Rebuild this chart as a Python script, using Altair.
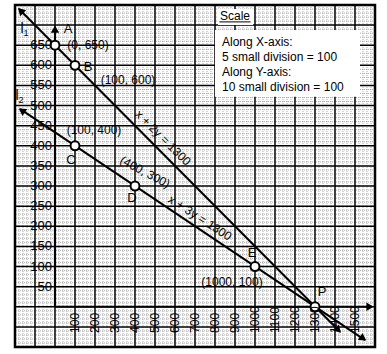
import altair as alt
import pandas as pd

# ---- data ----
pt_names = ["A", "B", "C", "D", "E", "P"]
pt_x = [0, 100, 100, 400, 1000, 1300]
pt_y = [650, 600, 400, 300, 100, 0]

# letter label positions
let_x = [65, 165, 80, 385, 985, 1335]
let_y = [690, 596, 365, 270, 133, 37]

# coordinate labels
coord_text = ["(0, 650)", "(100, 600)", "(100, 400)", "(1000, 100)"]
coord_x = [165, 365, 195, 885]
coord_y = [650, 564, 439, 61]

# lines (end points of the drawn arrows)
l1_x = [-180, 1425]
l1_y = [740, -62]
l2_x = [-175, 1550]
l2_y = [492, -83]

y_ticks = [50, 100, 150, 200, 250, 300, 350, 400, 450, 500, 550, 600, 650]
x_ticks = [100, 200, 300, 400, 500, 600, 700, 800, 900, 1000, 1100, 1200, 1300, 1400, 1500]

scale_lines = ["Along X-axis:", "5 small division = 100", "Along  Y-axis:", "10 small division = 100"]
scale_line_y = [658, 620, 583, 546]

XD = [-200, 1600]
YD = [-100, 750]
major_x = list(range(-200, 1601, 100))
major_y = list(range(-100, 751, 50))
minor_x = [v for v in range(-200, 1601, 20) if v % 100]
minor_y = [v for v in range(-100, 751, 10) if v % 50]

FONT = "Liberation Sans"
xs = alt.Scale(domain=XD, nice=False, zero=False)
ys = alt.Scale(domain=YD, nice=False, zero=False)

def X(f="x"):
    return alt.X(f"{f}:Q", scale=xs, axis=None)

def Y(f="y"):
    return alt.Y(f"{f}:Q", scale=ys, axis=None)

# grid
minor_v = alt.Chart(pd.DataFrame({"x": minor_x})).mark_rule(
    color="#8a8a8a", strokeWidth=0.7, strokeDash=[1, 1]).encode(x=X())
minor_h = alt.Chart(pd.DataFrame({"y": minor_y})).mark_rule(
    color="#8a8a8a", strokeWidth=0.7, strokeDash=[1, 1]).encode(y=Y())
major_v = alt.Chart(pd.DataFrame({"x": major_x})).mark_rule(
    color="black", strokeWidth=1.5).encode(x=X())
major_h = alt.Chart(pd.DataFrame({"y": major_y})).mark_rule(
    color="black", strokeWidth=1.5).encode(y=Y())

# axes (thicker)
axis_x = alt.Chart(pd.DataFrame({"x": [0], "x2": [1575], "y": [0]})).mark_rule(
    color="black", strokeWidth=2.2).encode(x=X(), x2="x2:Q", y=Y())
axis_y = alt.Chart(pd.DataFrame({"x": [0], "y": [0], "y2": [685]})).mark_rule(
    color="black", strokeWidth=2.2).encode(x=X(), y=Y(), y2="y2:Q")

# scale box
box_df = pd.DataFrame({"x": [800], "x2": [1525], "y": [688], "y2": [522]})
box = alt.Chart(box_df).mark_rect(color="white").encode(
    x=X(), x2="x2:Q", y=Y(), y2="y2:Q")
sbox = alt.Chart(pd.DataFrame({"x": [815], "x2": [990], "y": [740], "y2": [700]})).mark_rect(
    color="white").encode(x=X(), x2="x2:Q", y=Y(), y2="y2:Q")
stitle = alt.Chart(pd.DataFrame({"x": [900], "y": [722], "t": ["Scale"]})).mark_text(
    font=FONT, fontSize=12, color="black").encode(x=X(), y=Y(), text="t:N")
sunder = alt.Chart(pd.DataFrame({"x": [822], "x2": [978], "y": [708]})).mark_rule(
    color="black", strokeWidth=1).encode(x=X(), x2="x2:Q", y=Y())
stext = alt.Chart(pd.DataFrame({"x": [835] * 4, "y": scale_line_y, "t": scale_lines})).mark_text(
    font=FONT, fontSize=12, align="left", baseline="middle", color="black").encode(
    x=X(), y=Y(), text="t:N")

# lines
ldf = pd.DataFrame({"x": l1_x + l2_x, "y": l1_y + l2_y, "g": ["l1", "l1", "l2", "l2"]})
lines = alt.Chart(ldf).mark_line(color="black", strokeWidth=2).encode(
    x=X(), y=Y(), detail="g:N")

arr_df = pd.DataFrame({
    "x": [-172, 1417, -166, 1541, 0, 1575],
    "y": [736, -58, 488, -79, 690, 0],
    "a": [315, 135, 304, 124, 0, 90],
})
arrows = alt.Chart(arr_df).mark_point(shape="triangle-up", filled=True, color="black",
                                      size=70, opacity=1).encode(
    x=X(), y=Y(), angle=alt.Angle("a:Q", scale=None))

pts = alt.Chart(pd.DataFrame({"x": pt_x, "y": pt_y})).mark_point(
    shape="circle", filled=True, fill="white", stroke="black", strokeWidth=2,
    size=80, opacity=1).encode(x=X(), y=Y())

letters = alt.Chart(pd.DataFrame({"x": let_x, "y": let_y, "t": pt_names})).mark_text(
    font=FONT, fontSize=13, color="black").encode(x=X(), y=Y(), text="t:N")

coords = alt.Chart(pd.DataFrame({"x": coord_x, "y": coord_y, "t": coord_text})).mark_text(
    font=FONT, fontSize=12, color="black").encode(x=X(), y=Y(), text="t:N")
coordD = alt.Chart(pd.DataFrame({"x": [450], "y": [335], "t": ["(400, 300)"]})).mark_text(
    font=FONT, fontSize=12, color="black", angle=28).encode(x=X(), y=Y(), text="t:N")

eq1 = alt.Chart(pd.DataFrame({"x": [540], "y": [420], "t": ["x + 2y = 1300"]})).mark_text(
    font=FONT, fontSize=12, color="black", angle=45).encode(x=X(), y=Y(), text="t:N")
eq2 = alt.Chart(pd.DataFrame({"x": [725], "y": [221], "t": ["x + 3y = 1300"]})).mark_text(
    font=FONT, fontSize=12, color="black", angle=33).encode(x=X(), y=Y(), text="t:N")

# line names: "l" with subscript digit
lname = alt.Chart(pd.DataFrame({"x": [-165, -190], "y": [690, 525], "t": ["l", "l"]})).mark_text(
    font=FONT, fontSize=14, color="black").encode(x=X(), y=Y(), text="t:N")
lsub = alt.Chart(pd.DataFrame({"x": [-145, -170], "y": [680, 515], "t": ["1", "2"]})).mark_text(
    font=FONT, fontSize=9, color="black").encode(x=X(), y=Y(), text="t:N")

ylab = alt.Chart(pd.DataFrame({"x": [-15] * len(y_ticks), "y": y_ticks, "t": [str(v) for v in y_ticks]})).mark_text(
    font=FONT, fontSize=13, align="right", baseline="middle", color="black").encode(
    x=X(), y=Y(), text="t:N")
xlab = alt.Chart(pd.DataFrame({"x": x_ticks, "y": [-65] * len(x_ticks), "t": [str(v) for v in x_ticks]})).mark_text(
    font=FONT, fontSize=12, align="left", baseline="middle", angle=270, color="black").encode(
    x=X(), y=Y(), text="t:N")

chart = alt.layer(
    minor_v, minor_h, major_v, major_h, axis_x, axis_y,
    box, sbox, stitle, sunder, stext,
    lines, arrows, pts, letters, coords, coordD, eq1, eq2, lname, lsub, ylab, xlab,
).properties(
    width=360, height=342,
    autosize=alt.AutoSizeParams(type="none"),
    padding={"left": 15, "top": 5, "right": 12, "bottom": 7},
    background="white",
).configure_view(stroke="black", strokeWidth=2.5)

chart.save("out.html", embed_options={"renderer": "svg", "actions": False})
